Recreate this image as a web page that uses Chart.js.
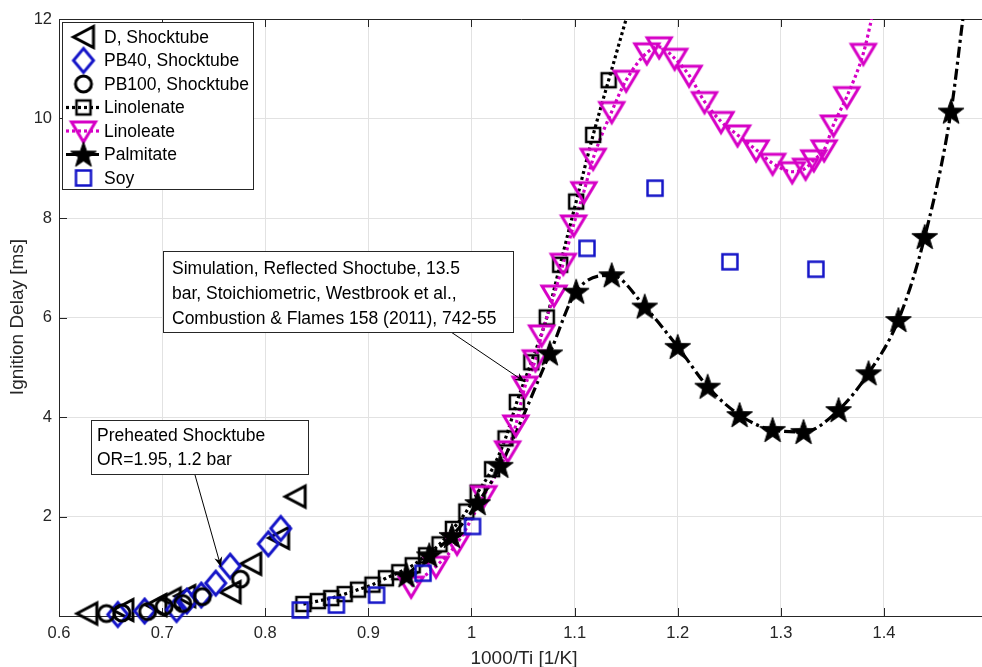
<!DOCTYPE html>
<html><head><meta charset="utf-8">
<script src="https://cdn.jsdelivr.net/npm/chart.js@4.4.1/dist/chart.umd.min.js"></script>
<style>
html,body{margin:0;padding:0;background:#fff;overflow:hidden}
#wrap{width:982px;height:667px;overflow:hidden;position:relative;background:#fff}
canvas{display:block}
</style></head><body>
<div id="wrap"><canvas id="c" width="990" height="667"></canvas></div>
<script>
// ---- tick labels ----
const xTicks = [0.6, 0.7, 0.8, 0.9, 1.0, 1.1, 1.2, 1.3, 1.4];
const yTicks = [2, 4, 6, 8, 10, 12];

// ---- series ----
const dX = [0.627, 0.662, 0.694, 0.708, 0.722, 0.766, 0.786, 0.813, 0.829];
const dY = [0.05, 0.12, 0.22, 0.35, 0.40, 0.48, 1.05, 1.57, 2.40];

const pb40X = [0.657, 0.683, 0.714, 0.724, 0.738, 0.752, 0.766, 0.803, 0.815];
const pb40Y = [0.03, 0.10, 0.13, 0.30, 0.42, 0.66, 1.00, 1.45, 1.76];

const pb100X = [0.646, 0.661, 0.686, 0.702, 0.720, 0.739, 0.776];
const pb100Y = [0.05, 0.06, 0.09, 0.19, 0.25, 0.39, 0.74];

const linolenateX = [0.837, 0.851, 0.864, 0.877, 0.890, 0.904, 0.917, 0.930, 0.943, 0.956, 0.969, 0.982, 0.995, 1.006, 1.020, 1.033, 1.044, 1.058, 1.073, 1.086, 1.1015, 1.118, 1.133];
const linolenateY = [0.24, 0.30, 0.36, 0.44, 0.53, 0.63, 0.76, 0.88, 1.02, 1.22, 1.44, 1.75, 2.10, 2.48, 2.95, 3.57, 4.30, 5.10, 6.00, 7.06, 8.33, 9.67, 10.77];
const linolenateLineEnd = [1.150, 12.0];

const linoleateX = [0.9415, 0.9656, 0.986, 1.012, 1.035, 1.043, 1.052, 1.062, 1.068, 1.080, 1.089, 1.099, 1.109, 1.118, 1.136, 1.150, 1.170, 1.182, 1.197, 1.211, 1.226, 1.242, 1.258, 1.276, 1.292, 1.311, 1.324, 1.332, 1.342, 1.351, 1.364, 1.380];
const linoleateY = [0.60, 1.00, 1.46, 2.42, 3.32, 3.84, 4.62, 5.15, 5.65, 6.45, 7.09, 7.86, 8.53, 9.20, 10.14, 10.77, 11.32, 11.44, 11.21, 10.87, 10.34, 9.94, 9.67, 9.37, 9.10, 8.93, 9.00, 9.17, 9.37, 9.87, 10.44, 11.31];
const linoleateLineEnd = [1.388, 12.0];

const palmitateX = [0.937, 0.959, 0.981, 1.006, 1.028, 1.076, 1.1015, 1.136, 1.168, 1.200, 1.229, 1.260, 1.292, 1.322, 1.356, 1.385, 1.414, 1.4395, 1.465];
const palmitateY = [0.82, 1.22, 1.61, 2.27, 3.02, 5.28, 6.52, 6.85, 6.22, 5.41, 4.61, 4.04, 3.74, 3.70, 4.14, 4.88, 5.95, 7.62, 10.14];
const palmitateLineEnd = [1.4765, 12.0];

const soyX = [0.834, 0.869, 0.908, 0.953, 1.001, 1.112, 1.178, 1.2506, 1.334];
const soyY = [0.12, 0.22, 0.42, 0.86, 1.80, 7.39, 8.60, 7.12, 6.97];

const legendLabels = ['D, Shocktube', 'PB40, Shocktube', 'PB100, Shocktube', 'Linolenate', 'Linoleate', 'Palmitate', 'Soy'];

// ---- styles ----
const MAG = '#D600C6';
const BLUE = '#1414C8';
const FONT = '"Liberation Sans", Arial, Helvetica, sans-serif';

function pts(xs, ys) { return xs.map((x, i) => ({ x: x, y: ys[i] })); }

function mk(w, h, draw) {
  const c = document.createElement('canvas');
  c.width = w; c.height = h;
  const g = c.getContext('2d');
  g.translate(w / 2, h / 2);
  draw(g);
  return c;
}
const mLeftTri = mk(30, 30, g => { g.beginPath(); g.moveTo(-10, 0); g.lineTo(10, -10.5); g.lineTo(10, 10.5); g.closePath(); g.lineWidth = 3; g.strokeStyle = '#000'; g.stroke(); });
const mDiamond = mk(30, 32, g => { g.beginPath(); g.moveTo(0, -12); g.lineTo(10, 0); g.lineTo(0, 12); g.lineTo(-10, 0); g.closePath(); g.lineWidth = 3; g.strokeStyle = BLUE; g.stroke(); });
const mCircle = mk(26, 26, g => { g.beginPath(); g.arc(0, 0, 8, 0, Math.PI * 2); g.lineWidth = 3; g.strokeStyle = '#000'; g.stroke(); });
const mSquare = mk(22, 22, g => { g.lineWidth = 2.5; g.strokeStyle = '#000'; g.strokeRect(-7, -7, 14, 14); });
const mDownTri = mk(32, 30, g => { g.beginPath(); g.moveTo(-12, -9); g.lineTo(12, -9); g.lineTo(0, 11); g.closePath(); g.lineWidth = 3; g.strokeStyle = MAG; g.stroke(); });
const mStar = mk(32, 32, g => {
  g.beginPath();
  for (let i = 0; i < 10; i++) {
    const r = i % 2 === 0 ? 13.5 : 5.4;
    const a = -Math.PI / 2 + i * Math.PI / 5;
    const px = r * Math.cos(a), py = r * Math.sin(a) + 1;
    if (i === 0) g.moveTo(px, py); else g.lineTo(px, py);
  }
  g.closePath(); g.fillStyle = '#000'; g.fill(); g.lineWidth = 1; g.strokeStyle = '#000'; g.stroke();
});
const mSoy = mk(22, 22, g => { g.lineWidth = 2.5; g.strokeStyle = BLUE; g.strokeRect(-7.5, -7.5, 15, 15); });

const DOT = [3, 3];
const DASHDOT = [11, 4, 3, 4];

function markerDS(label, data, style, order) {
  return { label, data, showLine: false, pointStyle: style, pointRadius: 5, pointHoverRadius: 5, clip: false, order };
}
function lineDS(label, data, color, dash, order) {
  return { label, data, showLine: true, pointRadius: 0, pointHoverRadius: 0, borderColor: color, borderWidth: 3.2, borderDash: dash, borderCapStyle: 'butt', cubicInterpolationMode: 'monotone', fill: false, order };
}

const datasets = [
  markerDS('Soy', pts(soyX, soyY), mSoy, 0),
  markerDS('D', pts(dX, dY), mLeftTri, 3),
  markerDS('PB40', pts(pb40X, pb40Y), mDiamond, 2),
  markerDS('PB100', pts(pb100X, pb100Y), mCircle, 1),
  markerDS('Linolenate', pts(linolenateX, linolenateY), mSquare, 5),
  markerDS('Linoleate', pts(linoleateX, linoleateY), mDownTri, 4),
  markerDS('Palmitate', pts(palmitateX, palmitateY), mStar, 3),
  lineDS('LinolenateLine', pts(linolenateX.concat([linolenateLineEnd[0]]), linolenateY.concat([linolenateLineEnd[1]])), '#000', DOT, 12),
  lineDS('LinoleateLine', pts(linoleateX.concat([linoleateLineEnd[0]]), linoleateY.concat([linoleateLineEnd[1]])), MAG, DOT, 11),
  lineDS('PalmitateLine', pts(palmitateX.concat([palmitateLineEnd[0]]), palmitateY.concat([palmitateLineEnd[1]])), '#000', DASHDOT, 10)
];

function arrow(g, x1, y1, x2, y2) {
  g.save();
  g.strokeStyle = '#000'; g.fillStyle = '#000'; g.lineWidth = 1;
  g.beginPath(); g.moveTo(x1, y1); g.lineTo(x2, y2); g.stroke();
  const a = Math.atan2(y2 - y1, x2 - x1);
  const L = 10, W = 4, N = 7;
  const bx = Math.cos(a), by = Math.sin(a), nx = -by, ny = bx;
  g.beginPath();
  g.moveTo(x2, y2);
  g.lineTo(x2 - bx * L + nx * W, y2 - by * L + ny * W);
  g.lineTo(x2 - bx * N, y2 - by * N);
  g.lineTo(x2 - bx * L - nx * W, y2 - by * L - ny * W);
  g.closePath(); g.fill();
  g.restore();
}
function tbox(g, x, y, w, h, lines, tx, ly) {
  g.save();
  g.fillStyle = '#fff'; g.fillRect(x, y, w, h);
  g.strokeStyle = '#262626'; g.lineWidth = 1; g.strokeRect(x + 0.5, y + 0.5, w, h);
  g.fillStyle = '#000'; g.font = '17.5px ' + FONT; g.textBaseline = 'middle'; g.textAlign = 'left';
  lines.forEach((t, i) => g.fillText(t, tx, ly[i]));
  g.restore();
}

const deco = {
  id: 'deco',
  beforeDatasetsDraw(chart) {
    const g = chart.ctx, a = chart.chartArea;
    g.save();
    g.strokeStyle = '#262626'; g.lineWidth = 1;
    // top border
    g.beginPath(); g.moveTo(a.left, a.top + 0.5); g.lineTo(a.right, a.top + 0.5); g.stroke();
    // inward ticks
    const xs = chart.scales.x, ys = chart.scales.y;
    xTicks.forEach(v => {
      const px = Math.round(xs.getPixelForValue(v)) + 0.5;
      g.beginPath(); g.moveTo(px, a.bottom); g.lineTo(px, a.bottom - 8); g.stroke();
      g.beginPath(); g.moveTo(px, a.top); g.lineTo(px, a.top + 8); g.stroke();
    });
    yTicks.forEach(v => {
      const py = Math.round(ys.getPixelForValue(v)) + 0.5;
      g.beginPath(); g.moveTo(a.left, py); g.lineTo(a.left + 8, py); g.stroke();
    });
    g.restore();
  },
  afterDraw(chart) {
    const g = chart.ctx;
    // axis titles
    g.save();
    g.fillStyle = '#262626'; g.font = '19px ' + FONT; g.textAlign = 'center'; g.textBaseline = 'middle';
    g.fillText('1000/Ti [1/K]', 524, 659);
    g.translate(18, 317); g.rotate(-Math.PI / 2);
    g.fillText('Ignition Delay [ms]', 0, 0);
    g.restore();

    // annotations
    arrow(g, 451, 332, 525, 382);
    tbox(g, 163, 251, 350, 81, ['Simulation, Reflected Shoctube, 13.5', 'bar, Stoichiometric, Westbrook et al.,', 'Combustion & Flames 158 (2011), 742-55'], 172, [269, 294, 319]);
    arrow(g, 195, 475, 221, 567);
    tbox(g, 91, 420, 217, 54, ['Preheated Shocktube', 'OR=1.95, 1.2 bar'], 97, [436.5, 460]);

    // legend
    g.save();
    g.fillStyle = '#fff'; g.fillRect(62, 22, 191, 167);
    g.strokeStyle = '#262626'; g.lineWidth = 1; g.strokeRect(62.5, 22.5, 191, 167);
    const markers = [mLeftTri, mDiamond, mCircle, mSquare, mDownTri, mStar, mSoy];
    const lineStyle = [null, null, null, ['#000', DOT], [MAG, DOT], ['#000', DASHDOT], null];
    legendLabels.forEach((lab, i) => {
      const y = 37 + i * 23.5;
      const ls = lineStyle[i];
      if (ls) {
        g.save(); g.strokeStyle = ls[0]; g.lineWidth = 3.2; g.setLineDash(ls[1]); g.lineCap = 'butt';
        g.beginPath(); g.moveTo(66, y); g.lineTo(101, y); g.stroke(); g.restore();
      }
      const m = markers[i];
      g.drawImage(m, 83.5 - m.width / 2, y - m.height / 2);
      g.fillStyle = '#000'; g.font = '17.5px ' + FONT; g.textBaseline = 'middle'; g.textAlign = 'left';
      g.fillText(lab, 104, y + 1);
    });
    g.restore();
  }
};

new Chart(document.getElementById('c'), {
  type: 'scatter',
  data: { datasets },
  options: {
    responsive: false, animation: false, events: [],
    layout: { padding: { top: 19, left: 0, right: 0, bottom: 0 } },
    plugins: { legend: { display: false }, tooltip: { enabled: false } },
    scales: {
      x: {
        type: 'linear', min: 0.6, max: 1.497,
        afterBuildTicks: s => { s.ticks = xTicks.map(v => ({ value: v })); },
        afterFit: s => { s.height = 51; },
        grid: { color: '#e2e2e2', lineWidth: 1, drawTicks: false },
        border: { color: '#262626', width: 1 },
        ticks: { padding: 8, color: '#262626', font: { family: FONT, size: 16.5 }, maxRotation: 0, autoSkip: false, callback: v => String(v) }
      },
      y: {
        type: 'linear', min: 0, max: 12,
        afterBuildTicks: s => { s.ticks = yTicks.map(v => ({ value: v })); },
        afterFit: s => { s.width = 59; },
        grid: { color: '#e2e2e2', lineWidth: 1, drawTicks: false },
        border: { color: '#262626', width: 1 },
        ticks: { padding: 7, color: '#262626', font: { family: FONT, size: 16.5 }, callback: v => String(v) }
      }
    }
  },
  plugins: [deco]
});
</script>
</body></html>
